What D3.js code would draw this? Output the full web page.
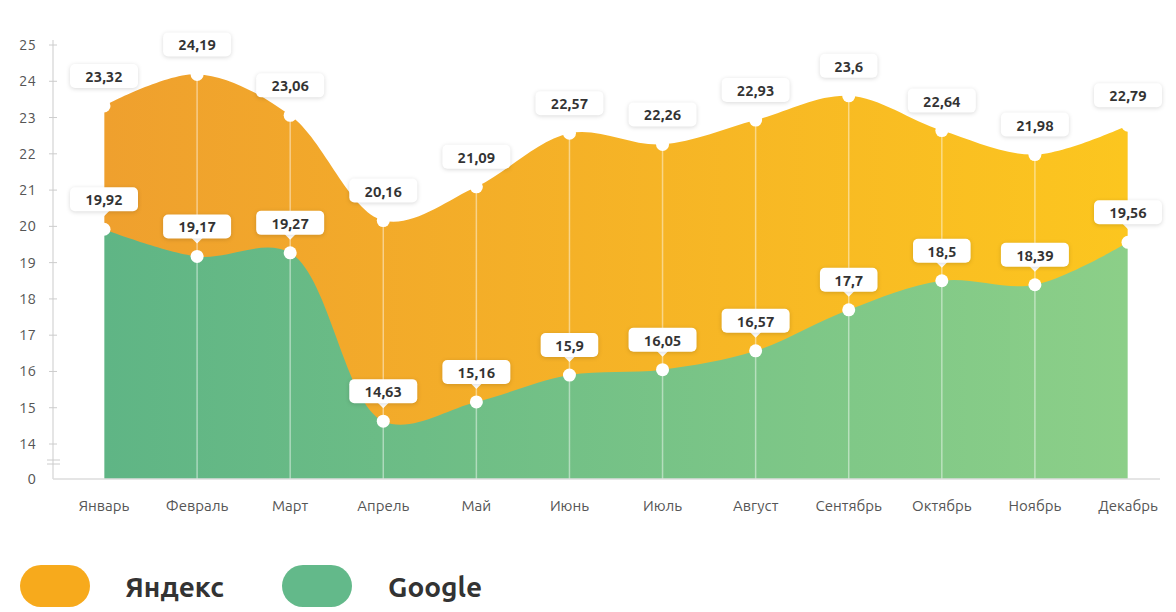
<!DOCTYPE html>
<html><head><meta charset="utf-8">
<script src="https://cdn.jsdelivr.net/npm/d3@7"></script>
<style>body{margin:0;background:#fff;font-family:Ubuntu,"Open Sans","Noto Sans",sans-serif}</style>
</head><body>
<script>
// Данные
const months = ['Январь','Февраль','Март','Апрель','Май','Июнь','Июль','Август','Сентябрь','Октябрь','Ноябрь','Декабрь'];
const yandex = [23.32,24.19,23.06,20.16,21.09,22.57,22.26,22.93,23.6,22.64,21.98,22.79];
const google = [19.92,19.17,19.27,14.63,15.16,15.9,16.05,16.57,17.7,18.5,18.39,19.56];
const yTicks = [14,15,16,17,18,19,20,21,22,23,24,25];

const W = 1176, H = 612, base = 479;
const svg = d3.select('body').append('svg').attr('width', W).attr('height', H);

const x = d3.scalePoint().domain(months).range([104, 1128]);
const y = d3.scaleLinear().domain([14, 25]).range([444, 45]);

const defs = svg.append('defs');
function grad(id, c1, c2) {
  const g = defs.append('linearGradient').attr('id', id).attr('x1', 0).attr('x2', 1);
  g.append('stop').attr('offset', 0).attr('stop-color', c1);
  g.append('stop').attr('offset', 1).attr('stop-color', c2);
}
grad('gy', '#efa02e', '#fcc61f');
grad('gg', '#5fb585', '#8ccf88');

const curve = d3.curveCatmullRom.alpha(0.5);
const area = vals => d3.area().x((d, i) => x(months[i])).y0(base).y1(d => y(d)).curve(curve)(vals);

svg.append('path').attr('d', area(yandex)).attr('fill', 'url(#gy)');
svg.append('path').attr('d', area(google)).attr('fill', 'url(#gg)');

// вертикальные линии
svg.append('g').selectAll('line').data(months).join('line')
  .attr('x1', d => x(d)).attr('x2', d => x(d))
  .attr('y1', (d, i) => y(yandex[i])).attr('y2', base)
  .attr('stroke', '#fff').attr('stroke-opacity', 0.45).attr('stroke-width', 1.5);

// ось Y
const ax = svg.append('g').attr('fill', '#555').attr('font-size', 15);
ax.append('line').attr('x1', 53).attr('x2', 53).attr('y1', 40).attr('y2', base).attr('stroke', '#ddd').attr('stroke-width', 1.5);
ax.append('line').attr('x1', 53).attr('x2', 1160).attr('y1', base).attr('y2', base).attr('stroke', '#ddd').attr('stroke-width', 1.5);
yTicks.forEach(t => {
  ax.append('line').attr('x1', 49).attr('x2', 57).attr('y1', y(t)).attr('y2', y(t)).attr('stroke', '#ccc');
  ax.append('text').attr('x', 36).attr('y', y(t) + 5).attr('text-anchor', 'end').text(t);
});
ax.append('text').attr('x', 36).attr('y', base + 5).attr('text-anchor', 'end').text(0);
[-2, 2].forEach(o => ax.append('line').attr('x1', 47).attr('x2', 60).attr('y1', 462 + o).attr('y2', 462 + o).attr('stroke', '#ccc'));

svg.append('g').selectAll('text').data(months).join('text')
  .attr('x', d => x(d)).attr('y', 511).attr('text-anchor', 'middle')
  .attr('fill', '#555').attr('font-size', 15).text(d => d);

// точки и подписи
function marks(vals) {
  const g = svg.append('g').selectAll('g').data(vals).join('g')
    .attr('transform', (d, i) => `translate(${x(months[i])},${y(d)})`);
  g.append('circle').attr('r', 6.5).attr('fill', '#fff');
  const lab = g.append('g').attr('transform', 'translate(0,-30)');
  lab.append('path').attr('d', 'M-6,11 L0,17 L6,11 Z').attr('fill', '#fff');
  lab.append('rect').attr('x', d => -(String(d).length * 5.2 + 8)).attr('width', d => String(d).length * 10.4 + 16)
    .attr('y', -12).attr('height', 24).attr('rx', 5).attr('fill', '#fff')
    .style('filter', 'drop-shadow(0 1px 2px rgba(0,0,0,0.15))');
  lab.append('text').attr('y', 6).attr('text-anchor', 'middle').attr('font-weight', 'bold')
    .attr('font-size', 15).attr('fill', '#333').text(d => String(d).replace('.', ','));
}
marks(yandex);
marks(google);

// легенда
const lg = [['Яндекс', '#f7aa1c', 20, 125], ['Google', '#63b98a', 282, 388]];
lg.forEach(([n, c, px, tx]) => {
  svg.append('rect').attr('x', px).attr('y', 565).attr('width', 70).attr('height', 42).attr('rx', 21).attr('fill', c);
  svg.append('text').attr('x', tx).attr('y', 597).attr('font-size', 28).attr('font-weight', 'bold').attr('fill', '#333').text(n);
});
</script>
</body></html>
